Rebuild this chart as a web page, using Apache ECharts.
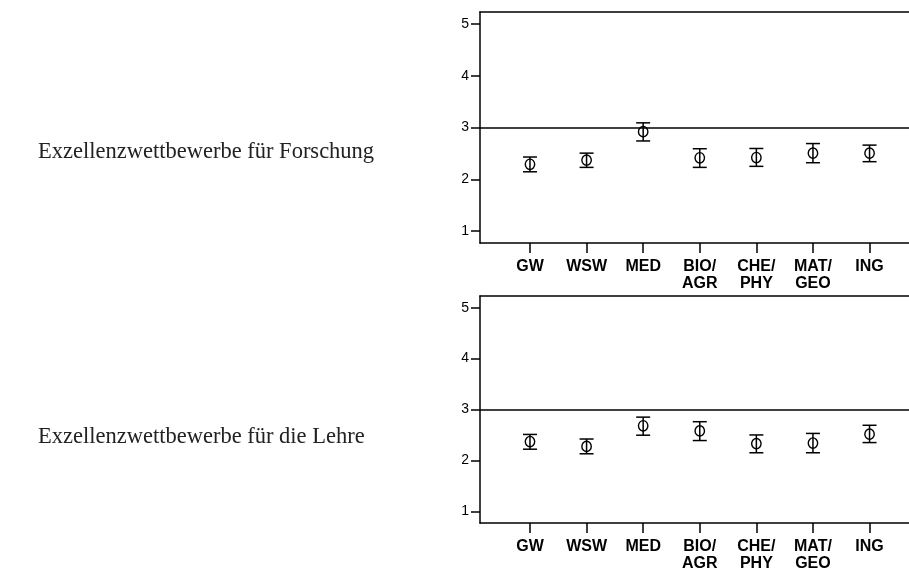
<!DOCTYPE html>
<html>
<head>
<meta charset="utf-8">
<script src="https://cdn.jsdelivr.net/npm/echarts@6/dist/echarts.min.js"></script>
<style>
html,body{margin:0;padding:0;background:#fff;}
#main{width:909px;height:572px;}
</style>
</head>
<body>
<div id="main"></div>
<script>
const categories = ['GW', 'WSW', 'MED', 'BIO/\nAGR', 'CHE/\nPHY', 'MAT/\nGEO', 'ING'];
const yTicks = [1, 2, 3, 4, 5];
const panelTitles = ['Exzellenzwettbewerbe für Forschung', 'Exzellenzwettbewerbe für die Lehre'];
const referenceValue = 3;

// Panel 1: Forschung
const forschungMean = [2.29, 2.37, 2.92, 2.415, 2.42, 2.505, 2.505];
const forschungLow  = [2.145, 2.23, 2.74, 2.23, 2.25, 2.32, 2.34];
const forschungHigh = [2.43, 2.505, 3.09, 2.59, 2.595, 2.69, 2.66];

// Panel 2: Lehre
const lehreMean = [2.37, 2.275, 2.68, 2.58, 2.33, 2.34, 2.515];
const lehreLow  = [2.22, 2.13, 2.495, 2.39, 2.15, 2.15, 2.35];
const lehreHigh = [2.51, 2.42, 2.85, 2.76, 2.50, 2.53, 2.69];

const chart = echarts.init(document.getElementById('main'));

const catIdx = categories.map((c, i) => i);

function makeData(mean, low, high) {
  return mean.map((m, i) => [i, m, low[i], high[i]]);
}

function renderErr(params, api) {
  const x = api.value(0);
  const pM = api.coord([x, api.value(1)]);
  const pL = api.coord([x, api.value(2)]);
  const pH = api.coord([x, api.value(3)]);
  const cap = 7, r = 4.7;
  const st = {stroke: '#000', lineWidth: 1.5, fill: null};
  return {
    type: 'group',
    children: [
      {type: 'line', shape: {x1: pM[0], y1: pH[1], x2: pM[0], y2: pL[1]}, style: st},
      {type: 'line', shape: {x1: pM[0] - cap, y1: pH[1], x2: pM[0] + cap, y2: pH[1]}, style: st},
      {type: 'line', shape: {x1: pM[0] - cap, y1: pL[1], x2: pM[0] + cap, y2: pL[1]}, style: st},
      {type: 'ellipse', shape: {cx: pM[0], cy: pM[1], rx: r, ry: r * 1.1}, style: {stroke: '#000', lineWidth: 1.4, fill: 'rgba(0,0,0,0)'}}
    ]
  };
}

const grids = [
  {left: 480, top: 12, right: 0, height: 231},
  {left: 480, top: 296, right: 0, height: 230}
];

const XMIN = -0.883, XMAX = 6.697;

function xAxis(gi) {
  return {
    type: 'value', gridIndex: gi, min: XMIN, max: XMAX, position: 'bottom',
    splitLine: {show: false},
    axisLine: {show: true, onZero: false, lineStyle: {color: '#000', width: 1.5}},
    axisTick: {show: true, customValues: catIdx, length: 10, lineStyle: {color: '#000', width: 1.5}},
    axisLabel: {
      show: true, customValues: catIdx, margin: 15,
      formatter: v => categories[Math.round(v)],
      color: '#000', fontFamily: 'Liberation Sans, Arial, sans-serif', fontWeight: 'bold',
      fontSize: 16, lineHeight: 17, verticalAlign: 'top'
    }
  };
}
function xAxisTop(gi) {
  return {
    type: 'value', gridIndex: gi, min: XMIN, max: XMAX, position: 'top',
    splitLine: {show: false},
    axisLine: {show: true, onZero: false, lineStyle: {color: '#000', width: 1.5}},
    axisTick: {show: false},
    axisLabel: {show: false}
  };
}
function yAxis(gi) {
  return {
    type: 'value', gridIndex: gi, min: 0.77, max: 5.23,
    splitLine: {show: false},
    axisLine: {show: true, onZero: false, lineStyle: {color: '#000', width: 1.5}},
    axisTick: {show: true, customValues: yTicks, length: 9, lineStyle: {color: '#000', width: 1.5}},
    axisLabel: {
      show: true, customValues: yTicks, margin: 11,
      color: '#000', fontFamily: 'Liberation Sans, Arial, sans-serif', fontSize: 14
    }
  };
}

function refLine() {
  return {
    silent: true, symbol: ['none', 'none'], label: {show: false},
    lineStyle: {color: '#000', width: 1.5, type: 'solid'},
    data: [{yAxis: referenceValue}]
  };
}

const option = {
  backgroundColor: '#fff',
  animation: false,
  grid: grids.map(g => Object.assign({show: false}, g)),
  xAxis: [xAxis(0), xAxisTop(0), xAxis(1), xAxisTop(1)],
  yAxis: [yAxis(0), yAxis(1)],
  graphic: [
    {type: 'text', left: 38, top: 141, style: {text: panelTitles[0], font: '22.5px "Liberation Serif", serif', fill: '#222'}},
    {type: 'text', left: 38, top: 426, style: {text: panelTitles[1], font: '22.5px "Liberation Serif", serif', fill: '#222'}}
  ],
  series: [
    {type: 'custom', xAxisIndex: 0, yAxisIndex: 0, renderItem: renderErr, data: makeData(forschungMean, forschungLow, forschungHigh), markLine: refLine(), clip: false},
    {type: 'custom', xAxisIndex: 2, yAxisIndex: 1, renderItem: renderErr, data: makeData(lehreMean, lehreLow, lehreHigh), markLine: refLine(), clip: false}
  ]
};
chart.setOption(option);
</script>
</body>
</html>
